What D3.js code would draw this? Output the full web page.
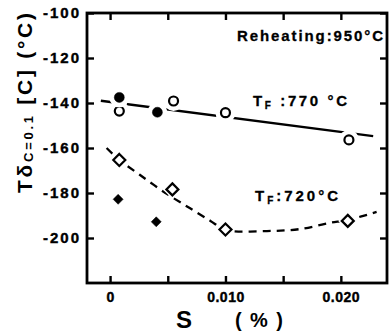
<!DOCTYPE html>
<html>
<head>
<meta charset="utf-8">
<script src="https://cdn.jsdelivr.net/npm/d3@7/dist/d3.min.js"></script>
<style>
  html, body { margin: 0; padding: 0; background: #fff; }
  svg { display: block; }
  text { font-family: "Liberation Sans", Arial, sans-serif; font-weight: bold; fill: #000; }
</style>
</head>
<body>
<svg id="chart" width="389" height="332"></svg>
<script>
// Transition temperature vs sulphur content, reheating at 950 °C
const sTicks = [0, 0.005, 0.010, 0.015, 0.020];
const sTickLabels = ["0", "", "0.010", "", "0.020"];
const tTicks = [-100, -120, -140, -160, -180, -200];
const tTickLabels = ["-100", "-120", "-140", "-160", "-180", "-200"];

// TF = 770 °C
const sOpen770 = [0.0008, 0.0055, 0.0100, 0.0207];
const tOpen770 = [-143.6, -139.1, -144.3, -156.4];
const sFilled770 = [0.0008, 0.0041];
const tFilled770 = [-137.5, -144.1];
const fitS770 = [-0.0008, 0.0228];
const fitT770 = [-139.0, -154.7];

// TF = 720 °C
const sOpen720 = [0.0008, 0.0054, 0.0100, 0.0206];
const tOpen720 = [-165.3, -178.4, -196.2, -192.4];
const sFilled720 = [0.0007, 0.0040];
const tFilled720 = [-182.8, -192.8];
const fitS720 = [-0.0003, 0.0008, 0.0026, 0.0048, 0.0069, 0.0087, 0.0100, 0.0136, 0.0165, 0.0190, 0.0206, 0.0231];
const fitT720 = [-160.0, -165.3, -172.0, -180.0, -186.7, -192.4, -196.4, -196.9, -196.0, -193.3, -192.0, -188.4];

const svg = d3.select("#chart");
const x = d3.scaleLinear().domain([-0.002, 0.024]).range([87, 387]);
const y = d3.scaleLinear().domain([-220, -100]).range([283, 13]);

const zip = (a, b) => a.map((v, i) => [v, b[i]]);

// fitted lines
const line = d3.line().x(d => x(d[0])).y(d => y(d[1]));
svg.append("path")
  .attr("d", line(zip(fitS770, fitT770)))
  .attr("fill", "none").attr("stroke", "#000").attr("stroke-width", 2.3);
svg.append("path")
  .attr("d", line.curve(d3.curveCatmullRom)(zip(fitS720, fitT720)))
  .attr("fill", "none").attr("stroke", "#000").attr("stroke-width", 2.3)
  .attr("stroke-dasharray", "8,6");

// markers with a white halo that breaks the lines around them
const diamond = r => `M0,${-r}L${r},0L0,${r}L${-r},0Z`;
function circles(sArr, tArr, filled) {
  const g = svg.append("g");
  const pts = zip(sArr, tArr);
  g.selectAll("circle.halo").data(pts).join("circle").attr("class", "halo")
    .attr("cx", d => x(d[0])).attr("cy", d => y(d[1])).attr("r", 5)
    .attr("fill", "#fff").attr("stroke", "#fff").attr("stroke-width", 10);
  return () => g.selectAll("circle.mk").data(pts).join("circle").attr("class", "mk")
    .attr("cx", d => x(d[0])).attr("cy", d => y(d[1])).attr("r", filled ? 5 : 4.5)
    .attr("fill", filled ? "#000" : "#fff").attr("stroke", "#000").attr("stroke-width", filled ? 0.5 : 2.2);
}
function diamonds(sArr, tArr, filled) {
  const g = svg.append("g");
  const pts = zip(sArr, tArr);
  g.selectAll("path.halo").data(pts).join("path").attr("class", "halo")
    .attr("transform", d => `translate(${x(d[0])},${y(d[1])})`)
    .attr("d", diamond(6)).attr("fill", "#fff").attr("stroke", "#fff").attr("stroke-width", 5);
  return () => g.selectAll("path.mk").data(pts).join("path").attr("class", "mk")
    .attr("transform", d => `translate(${x(d[0])},${y(d[1])})`)
    .attr("d", diamond(filled ? 5 : 6))
    .attr("fill", filled ? "#000" : "#fff").attr("stroke", "#000").attr("stroke-width", filled ? 0.5 : 2.2);
}
const draws = [
  circles(sOpen770, tOpen770, false),
  circles(sFilled770, tFilled770, true),
  diamonds(sOpen720, tOpen720, false),
  diamonds(sFilled720, tFilled720, true)
];
draws.forEach(f => f());

// frame and inward ticks
svg.append("rect").attr("x", 87).attr("y", 13).attr("width", 300).attr("height", 270)
  .attr("fill", "none").attr("stroke", "#000").attr("stroke-width", 2.8);

const axL = svg.append("g").attr("transform", "translate(87,0)")
  .call(d3.axisLeft(y).tickValues(tTicks).tickSize(-7).tickPadding(6)
    .tickFormat((d, i) => tTickLabels[i]));
const axR = svg.append("g").attr("transform", "translate(387,0)")
  .call(d3.axisRight(y).tickValues(tTicks).tickSize(-7).tickFormat(""));
const axB = svg.append("g").attr("transform", "translate(0,283)")
  .call(d3.axisBottom(x).tickValues(sTicks).tickSize(-7).tickPadding(9)
    .tickFormat((d, i) => sTickLabels[i]));
const axT = svg.append("g").attr("transform", "translate(0,13)")
  .call(d3.axisTop(x).tickValues(sTicks).tickSize(-7).tickFormat(""));
[axL, axR, axB, axT].forEach(a => {
  a.select(".domain").remove();
  a.selectAll(".tick line").attr("stroke", "#000").attr("stroke-width", 2.4);
});
axL.selectAll(".tick text").attr("font-size", 15).attr("letter-spacing", 2)
  .attr("font-family", "Liberation Sans, Arial, sans-serif").attr("font-weight", "bold")
  .attr("stroke", "#000").attr("stroke-width", 0.4);
axB.selectAll(".tick text").attr("font-size", 14).attr("letter-spacing", 0.5)
  .attr("font-family", "Liberation Sans, Arial, sans-serif").attr("font-weight", "bold")
  .attr("stroke", "#000").attr("stroke-width", 0.4);

// annotations
svg.append("text").attr("x", 237).attr("y", 41).attr("font-size", 15)
  .attr("stroke", "#000").attr("stroke-width", 0.3)
  .attr("textLength", 146).attr("lengthAdjust", "spacing").text("Reheating:950°C");

function tfLabel(px, py, len, value) {
  const t = svg.append("text").attr("x", px).attr("y", py).attr("font-size", 15)
    .attr("stroke", "#000").attr("stroke-width", 0.3)
    .attr("textLength", len).attr("lengthAdjust", "spacing");
  t.append("tspan").text("T");
  t.append("tspan").attr("font-size", 10).attr("dy", 3).text("F");
  t.append("tspan").attr("dy", -3).text(value);
}
tfLabel(253, 106, 94, " :770 °C");
tfLabel(255, 201, 83, ":720°C");

// axis titles
svg.append("text").attr("x", 176).attr("y", 328).attr("font-size", 24).text("S");
svg.append("text").attr("x", 235).attr("y", 327).attr("font-size", 20)
  .attr("textLength", 48).attr("lengthAdjust", "spacing").text("(%)");

const yt = svg.append("text").attr("transform", "translate(32,193) rotate(-90)")
  .attr("font-size", 21).attr("textLength", 180).attr("lengthAdjust", "spacing");
yt.append("tspan").text("Tδ");
yt.append("tspan").attr("font-size", 13).attr("dy", 1).text("C=0.1");
yt.append("tspan").attr("dy", -1).text(" [C] (°C)");
</script>
</body>
</html>
